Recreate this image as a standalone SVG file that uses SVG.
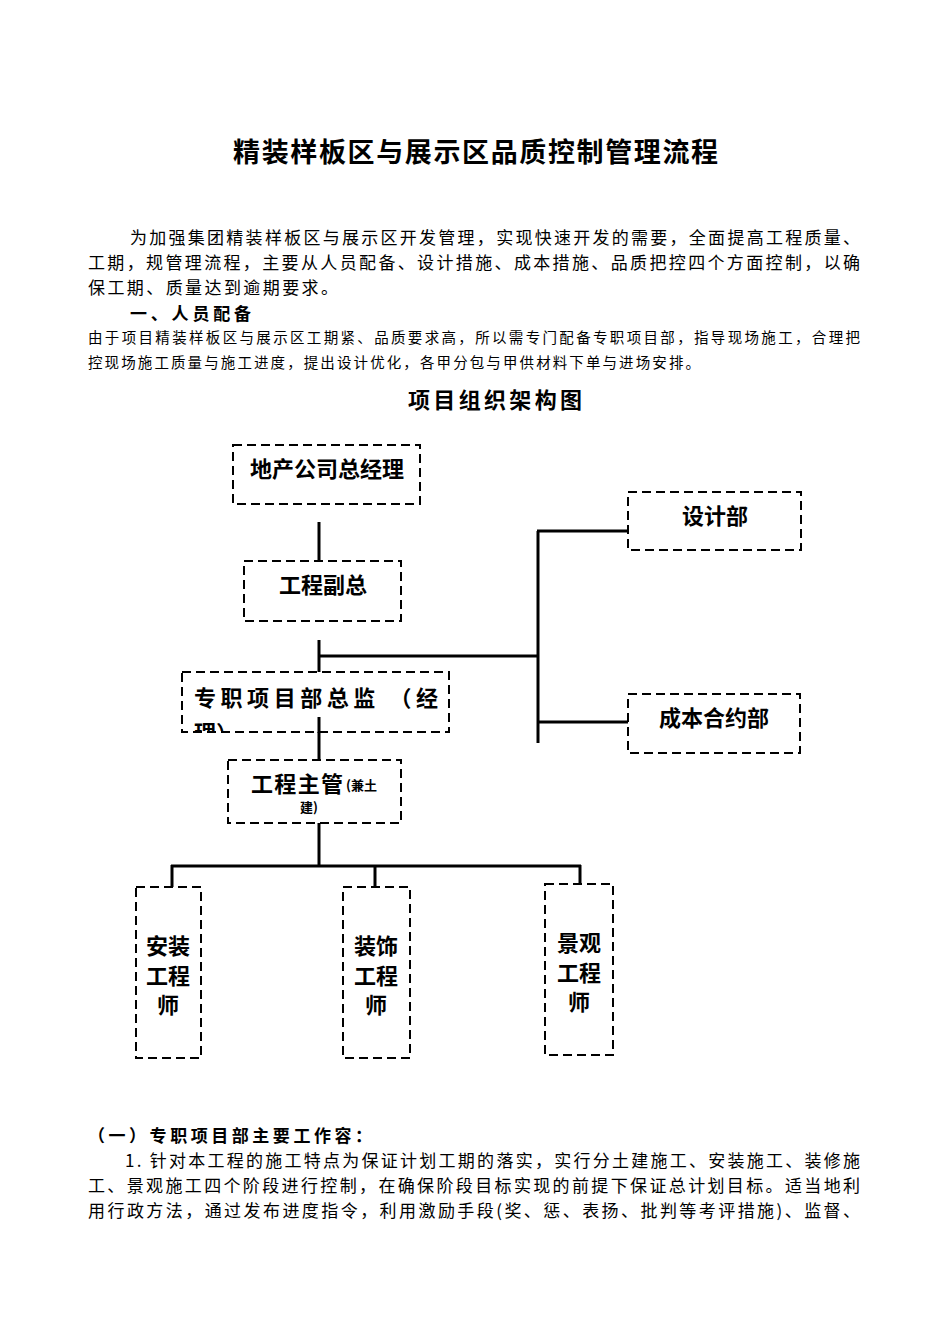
<svg xmlns="http://www.w3.org/2000/svg" width="950" height="1344" viewBox="0 0 950 1344">
<style>
.t{font-family:"Noto Sans CJK SC","Liberation Sans",sans-serif;fill:#000}
.body{font-size:17px}
.small{font-size:14.5px}
.b{font-weight:bold}
.box{fill:#fff;stroke:#000;stroke-width:2;stroke-dasharray:9,5}
.nl{font-family:"Noto Sans CJK SC","Liberation Sans",sans-serif;font-weight:bold;font-size:22px;fill:#000;text-anchor:middle}
.c{stroke:#000;stroke-width:3;fill:none}
</style>
<defs>
<clipPath id="clipZ"><rect x="183" y="673" width="265" height="58"/></clipPath>
</defs>
<rect width="950" height="1344" fill="#fff"/>
<g id="header">
<text class="t b" x="233" y="162" font-size="27" textLength="485" lengthAdjust="spacing">精装样板区与展示区品质控制管理流程</text>
<text class="t body" x="130" y="244" textLength="730" lengthAdjust="spacing">为加强集团精装样板区与展示区开发管理，实现快速开发的需要，全面提高工程质量、</text>
<text class="t body" x="88" y="269" textLength="772" lengthAdjust="spacing">工期，规管理流程，主要从人员配备、设计措施、成本措施、品质把控四个方面控制，以确</text>
<text class="t body" x="88" y="294" textLength="250" lengthAdjust="spacing">保工期、质量达到逾期要求。</text>
<text class="t b" x="130" y="320" font-size="17" textLength="121" lengthAdjust="spacing">一、人员配备</text>
<text class="t small" x="88" y="343" textLength="772" lengthAdjust="spacing">由于项目精装样板区与展示区工期紧、品质要求高，所以需专门配备专职项目部，指导现场施工，合理把</text>
<text class="t small" x="88" y="368" textLength="612" lengthAdjust="spacing">控现场施工质量与施工进度，提出设计优化，各甲分包与甲供材料下单与进场安排。</text>
<text class="t b" x="408" y="408" font-size="22" textLength="174" lengthAdjust="spacing">项目组织架构图</text>
</g>
<g id="connectors">
<line class="c" x1="319" y1="522" x2="319" y2="562"/>
<line class="c" x1="319" y1="640" x2="319" y2="674"/>
<line class="c" x1="319" y1="656" x2="538" y2="656"/>
<line class="c" x1="538" y1="531" x2="538" y2="743"/>
<line class="c" x1="537" y1="531" x2="628" y2="531"/>
<line class="c" x1="537" y1="722" x2="628" y2="722"/>
<line class="c" x1="319" y1="717" x2="319" y2="760"/>
<line class="c" x1="319" y1="823" x2="319" y2="866"/>
<line class="c" x1="171" y1="866" x2="581" y2="866"/>
<line class="c" x1="172" y1="865" x2="172" y2="887"/>
<line class="c" x1="375" y1="865" x2="375" y2="887"/>
<line class="c" x1="580" y1="865" x2="580" y2="884"/>
</g>
<g id="n1">
<rect class="box" x="233" y="445" width="187" height="59"/>
<text class="nl" x="327" y="477">地产公司总经理</text>
</g>
<g id="n2">
<rect class="box" x="244" y="561" width="157" height="60"/>
<text class="nl" x="323" y="593">工程副总</text>
</g>
<g id="n3">
<rect class="box" x="182" y="672" width="267" height="60"/>
<g clip-path="url(#clipZ)">
<text class="t b" x="194" y="706" font-size="22" textLength="244" lengthAdjust="spacing">专职项目部总监 （经</text>
<text class="t b" x="194" y="741" font-size="22">理）</text>
</g>
<line class="c" x1="319" y1="717" x2="319" y2="733"/>
</g>
<g id="n4">
<rect class="box" x="228" y="760" width="173" height="63"/>
<text class="t b" x="251" y="792" font-size="22" textLength="92" lengthAdjust="spacing">工程主管</text>
<text class="t b" x="346" y="790" font-size="13">(兼土</text>
<text class="t b" x="300" y="812" font-size="13">建)</text>
</g>
<g id="n5">
<rect class="box" x="628" y="492" width="173" height="58"/>
<text class="nl" x="715" y="524">设计部</text>
</g>
<g id="n6">
<rect class="box" x="628" y="694" width="172" height="59"/>
<text class="nl" x="714" y="726">成本合约部</text>
</g>
<g id="n7">
<rect class="box" x="136" y="887" width="65" height="171"/>
<text class="nl" x="168" y="954">安装</text>
<text class="nl" x="168" y="984">工程</text>
<text class="nl" x="168" y="1013">师</text>
</g>
<g id="n8">
<rect class="box" x="343" y="887" width="67" height="171"/>
<text class="nl" x="376" y="954">装饰</text>
<text class="nl" x="376" y="984">工程</text>
<text class="nl" x="376" y="1013">师</text>
</g>
<g id="n9">
<rect class="box" x="545" y="884" width="68" height="171"/>
<text class="nl" x="579" y="951">景观</text>
<text class="nl" x="579" y="981">工程</text>
<text class="nl" x="579" y="1010">师</text>
</g>
<g id="section">
<text class="t b" x="88" y="1142" font-size="17" textLength="284" lengthAdjust="spacing">（一）专职项目部主要工作容：</text>
<text class="t body" x="125" y="1167" textLength="735" lengthAdjust="spacing">1. 针对本工程的施工特点为保证计划工期的落实，实行分土建施工、安装施工、装修施</text>
<text class="t body" x="88" y="1192" textLength="772" lengthAdjust="spacing">工、景观施工四个阶段进行控制，在确保阶段目标实现的前提下保证总计划目标。适当地利</text>
<text class="t body" x="88" y="1217" textLength="772" lengthAdjust="spacing">用行政方法，通过发布进度指令，利用激励手段(奖、惩、表扬、批判等考评措施)、监督、</text>
</g>
</svg>
